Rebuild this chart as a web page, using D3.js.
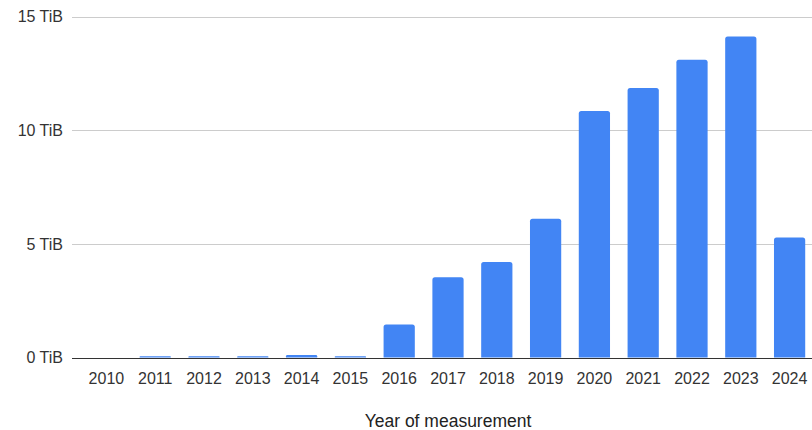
<!DOCTYPE html>
<html>
<head>
<meta charset="utf-8">
<script src="https://cdn.jsdelivr.net/npm/d3@7"></script>
<style>
  html, body { margin: 0; padding: 0; background: #fff; }
  svg { display: block; font-family: "Liberation Sans", Arial, sans-serif; }
</style>
</head>
<body>
<svg id="chart" width="812" height="430"></svg>
<script>
// Yearly volume of measurement data, in TiB
const years = ["2010", "2011", "2012", "2013", "2014", "2015", "2016", "2017",
               "2018", "2019", "2020", "2021", "2022", "2023", "2024"];
const volumeTiB = [0, 0.06, 0.06, 0.06, 0.11, 0.06, 1.45, 3.53,
                   4.2, 6.1, 10.84, 11.85, 13.1, 14.12, 5.28];
const yTicks = [0, 5, 10, 15];
const yTickLabels = ["0 TiB", "5 TiB", "10 TiB", "15 TiB"];
const xTitle = "Year of measurement";

const svg = d3.select("#chart");
const W = 812, H = 430;

const x = d3.scaleBand()
  .domain(years)
  .range([82, 814])
  .paddingInner(0.36)
  .paddingOuter(0.18);

const y = d3.scaleLinear()
  .domain([0, 15])
  .range([357.5, 16.5]);

// Horizontal gridlines
svg.append("g")
  .selectAll("line")
  .data(yTicks.filter(d => d !== 0))
  .join("line")
  .attr("x1", 72).attr("x2", W)
  .attr("y1", d => Math.round(y(d)) + 0.5)
  .attr("y2", d => Math.round(y(d)) + 0.5)
  .attr("stroke", "#cccccc")
  .attr("stroke-width", 1);

// Y tick labels
svg.append("g")
  .selectAll("text")
  .data(yTicks)
  .join("text")
  .attr("x", 63)
  .attr("y", d => y(d))
  .attr("dy", "0.36em")
  .attr("text-anchor", "end")
  .attr("font-size", 16)
  .attr("fill", "#333")
  .text((d, i) => yTickLabels[i]);

// Bars with slightly rounded tops
const r = 2.5;
function barPath(d) {
  const x0 = x(d.year), w = x.bandwidth();
  const y0 = y(0), y1 = y(d.value);
  const h = y0 - y1;
  const rr = Math.min(r, h / 2, w / 2);
  if (h <= 0) return "";
  return `M${x0},${y0}V${y1 + rr}Q${x0},${y1} ${x0 + rr},${y1}` +
         `H${x0 + w - rr}Q${x0 + w},${y1} ${x0 + w},${y1 + rr}V${y0}Z`;
}
svg.append("g")
  .selectAll("path")
  .data(years.map((yr, i) => ({ year: yr, value: volumeTiB[i] })))
  .join("path")
  .attr("d", barPath)
  .attr("fill", "#4285f4");

// Baseline
svg.append("line")
  .attr("x1", 72).attr("x2", W)
  .attr("y1", Math.round(y(0)) + 0.5).attr("y2", Math.round(y(0)) + 0.5)
  .attr("stroke", "#333")
  .attr("stroke-width", 1);

// X axis labels
const xAxis = d3.axisBottom(x).tickSize(0).tickPadding(0);
const gx = svg.append("g")
  .attr("transform", `translate(0,${y(0)})`)
  .call(xAxis);
gx.select(".domain").remove();
gx.selectAll("text")
  .attr("y", 26)
  .attr("dy", 0)
  .attr("font-size", 16)
  .attr("font-family", "Liberation Sans, Arial, sans-serif")
  .attr("fill", "#333");

// Axis title
svg.append("text")
  .attr("x", (x.range()[0] + x.range()[1]) / 2)
  .attr("y", 427)
  .attr("text-anchor", "middle")
  .attr("font-size", 17.5)
  .attr("fill", "#222")
  .text(xTitle);
</script>
</body>
</html>
